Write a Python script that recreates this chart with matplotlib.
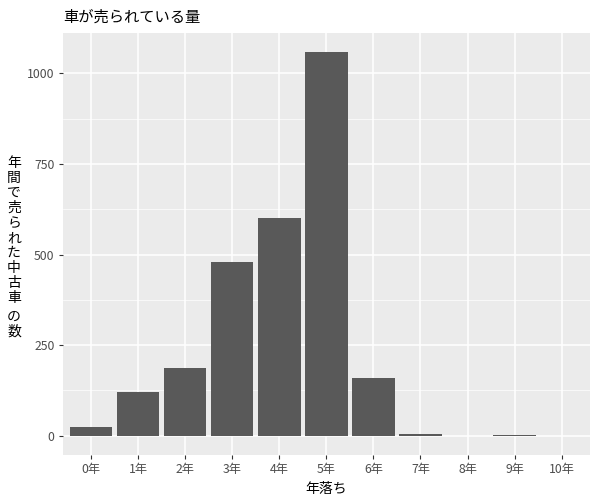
import matplotlib
matplotlib.use("Agg")
import matplotlib.pyplot as plt
from matplotlib.ticker import MultipleLocator

plt.rcParams["font.family"] = ["Noto Sans CJK JP", "DejaVu Sans"]

years = ["0年", "1年", "2年", "3年", "4年", "5年", "6年", "7年", "8年", "9年", "10年"]
counts = [25, 122, 188, 478, 602, 1058, 160, 5, 0, 2, 0]

title = "車が売られている量"
xlabel = "年落ち"
ylabel_lines = list("年間で売られた中古車") + ["の", "数"]

fig = plt.figure(figsize=(6, 5), dpi=100)
ax = fig.add_axes([0.105, 0.09, 0.878, 0.844])
ax.set_facecolor("#EBEBEB")

x = list(range(len(years)))
ax.bar(x, counts, width=0.9, color="#595959", zorder=3)

top = max(counts)
pad = top * 0.05
ax.set_ylim(-pad, top + pad)
ax.set_xlim(-0.6, len(years) - 0.4)

ax.set_yticks([0, 250, 500, 750, 1000])
ax.yaxis.set_minor_locator(MultipleLocator(125))
ax.set_xticks(x)
ax.set_xticklabels(years)

ax.grid(which="major", color="white", linewidth=1.1, zorder=0)
ax.grid(which="minor", axis="y", color="white", linewidth=0.5, zorder=0)
ax.set_axisbelow(True)
for s in ax.spines.values():
    s.set_visible(False)
ax.tick_params(which="major", length=3, color="#333333", labelcolor="#4D4D4D", labelsize=8.8, pad=3)
ax.tick_params(which="minor", length=0)

ax.set_xlabel(xlabel, fontsize=10, color="black", labelpad=4)

# stacked (unrotated) y label, one character per line, small gap before "の"
ypix = 163
for i, ch in enumerate(ylabel_lines):
    if ch == "の":
        ypix += 4
    fig.text(14 / 600, 1 - ypix / 500, ch, fontsize=10, ha="center", va="center")
    ypix += 15

fig.text(0.105, 0.965, title, fontsize=11, ha="left", va="center")

fig.savefig("out.png", dpi=100)
